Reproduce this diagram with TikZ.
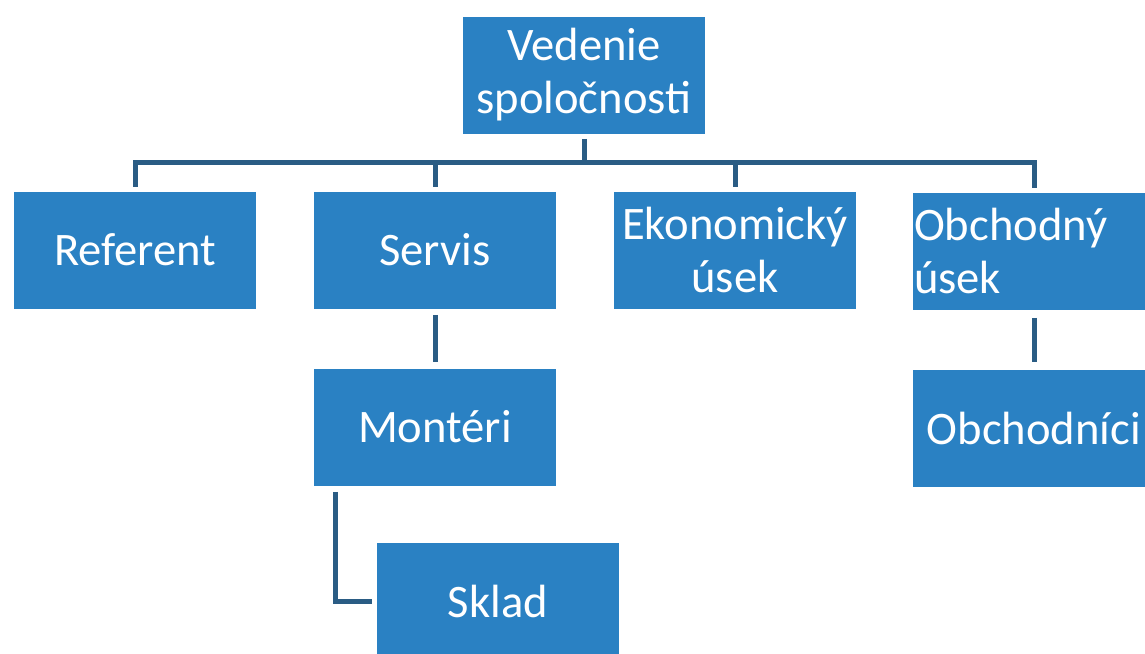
\documentclass[tikz,border=0pt]{standalone}
\usepackage{fontspec}
\setmainfont{Carlito}
\usepackage{tikz}
\definecolor{boxblue}{RGB}{42,129,195}
\definecolor{lineblue}{RGB}{42,92,132}

\begin{document}
\begin{tikzpicture}[x=0.5pt,y=-0.5pt,
  every node/.append style={font=\fontsize{23.3pt}{26.5pt}\selectfont}]
  \tikzstyle{unit} = [fill=boxblue,text=white,minimum width=121pt,minimum height=58.5pt,align=center,inner sep=0.5pt]
  \tikzstyle{link} = [draw=lineblue,line width=2.5pt]
  \clip (0,0) rectangle (1145,653);
  \fill[white] (0,0) rectangle (1145,653);
  \node (1_1) [unit] at (584,75) {Vedenie\\spoločnosti};
  \node (1_2) [unit] at (135,250) {Referent};
  \node (1_3) [unit] at (435,250) {Servis};
  \node (1_4) [unit] at (735,250) {Ekonomický\\úsek};
  \node (1_5) [unit,text width=120pt,align=left] at (1034,251) {Obchodný\\úsek};
  \node (1_6) [unit] at (435,427) {Montéri};
  \node (1_7) [unit] at (1034,428) {Obchodníci};
  \node (1_8) [unit] at (498,601) {Sklad};
  \coordinate (bus) at (584,162);
  \draw[link,shorten <=2.5pt] (1_1) -- (bus);
  \foreach \n in {1_2,1_3,1_4,1_5}
    \draw[link,shorten >=2pt] (bus) -| (\n.north);
  \draw[link,shorten <=3pt,shorten >=3pt] (1_3) -- (1_6);
  \draw[link,shorten <=4pt,shorten >=3.5pt] (1_5) -- (1_7);
  \draw[link,shorten <=3pt,shorten >=2.5pt] ([xshift=11pt]1_6.south west) |- (1_8.west);
\end{tikzpicture}
\end{document}
